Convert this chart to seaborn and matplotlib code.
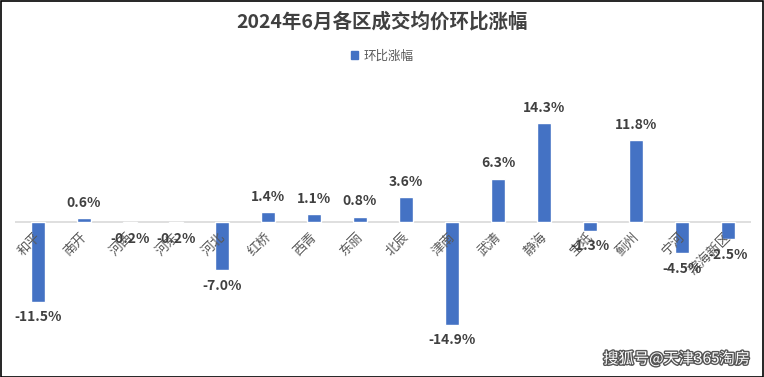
import pandas as pd
import numpy as np
import matplotlib
matplotlib.use('Agg')
import matplotlib.pyplot as plt
import matplotlib.patheffects as pe
from matplotlib.patches import Rectangle, Patch
import seaborn as sns

districts = ['和平', '南开', '河西', '河东', '河北', '红桥', '西青', '东丽',
             '北辰', '津南', '武清', '静海', '宝坻', '蓟州', '宁河', '滨海新区']
change = [-11.5, 0.6, -0.2, -0.2, -7.0, 1.4, 1.1, 0.8,
          3.6, -14.9, 6.3, 14.3, -1.3, 11.8, -4.5, -2.5]
series_name = '环比涨幅'
title = '2024年6月各区成交均价环比涨幅'

df = pd.DataFrame({'district': districts, 'change': change})

sns.set_style('white')
plt.rcParams['font.family'] = ['Noto Sans CJK SC', 'DejaVu Sans']
plt.rcParams['axes.unicode_minus'] = False

W, H = 764, 377
fig = plt.figure(figsize=(W / 100, H / 100), dpi=100)
ax = fig.add_axes([15 / W, 27 / H, 736 / W, 260 / H])

bar_color = '#4472C4'
sns.barplot(data=df, x='district', y='change', color=bar_color, width=0.29,
            saturation=1, ax=ax)

ax.set_xlim(-0.5, 15.5)
ax.set_ylim(-18.5, 19.1)
ax.axhline(0, color='#d9d9d9', lw=1.2, zorder=0)
for s in ax.spines.values():
    s.set_visible(False)
ax.set_yticks([])
ax.set_xlabel('')
ax.set_ylabel('')
ax.tick_params(axis='x', length=0)
# tick labels sit just under the zero line, tilted like the original
ax.set_xticks(range(len(districts)))
ax.set_xticklabels([])
for i, name in enumerate(districts):
    ax.annotate(name, (i, 0), xytext=(4, -6), textcoords='offset points',
                rotation=45, ha='right', va='top', fontsize=9.5,
                color='#595959')

for i, v in enumerate(change):
    if v >= 0:
        ax.annotate(f'{v:.1f}%', (i, v), xytext=(0, 6), textcoords='offset points',
                    ha='center', va='bottom', fontsize=10, fontweight='bold',
                    color='#404040')
    else:
        ax.annotate(f'{v:.1f}%', (i, v), xytext=(0, -6), textcoords='offset points',
                    ha='center', va='top', fontsize=10, fontweight='bold',
                    color='#404040')

fig.text(0.5, 1 - 22 / H, title, ha='center', va='center', fontsize=14,
         fontweight='bold', color='#404040')
fig.legend(handles=[Patch(color=bar_color, label=series_name)],
           loc='center', bbox_to_anchor=(0.5, 1 - 56 / H), frameon=False,
           fontsize=9, handlelength=0.6, handleheight=0.6, handletextpad=0.4,
           labelcolor='#595959')

fig.text(1 - 14 / W, 18 / H, '搜狐号@天津365淘房', ha='right', va='center',
         fontsize=11, color='white',
         path_effects=[pe.withStroke(linewidth=2, foreground='#555555')])

fig.patches.append(Rectangle((0.5 / W, 0.5 / H), 1 - 1.5 / W, 1 - 1.5 / H,
                             transform=fig.transFigure, fill=False,
                             edgecolor='black', lw=1.2))

fig.savefig('out.png', dpi=100)
